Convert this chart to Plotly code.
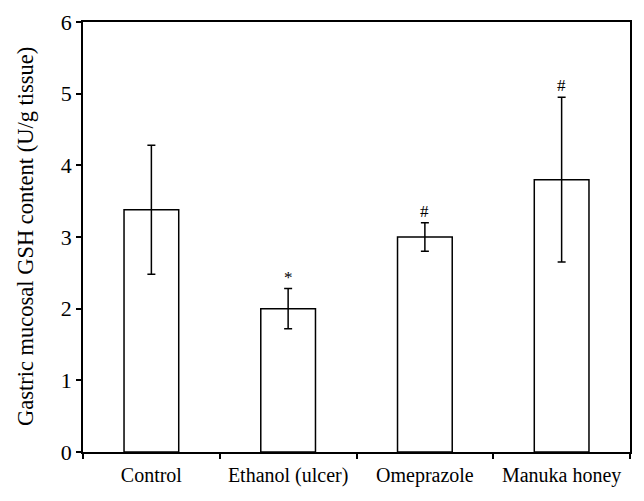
import plotly.graph_objects as go

categories = ["Control", "Ethanol (ulcer)", "Omeprazole", "Manuka honey"]
means = [3.38, 2.0, 3.0, 3.80]
errors = [0.90, 0.28, 0.20, 1.15]
marks = ["", "*", "#", "#"]
y_ticks = [0, 1, 2, 3, 4, 5, 6]
y_title = "Gastric mucosal GSH content (U/g tissue)"

FONT = "Liberation Serif"

fig = go.Figure()
fig.add_trace(go.Bar(
    x=categories, y=means, width=0.4,
    marker=dict(color="white", line=dict(color="black", width=1.5)),
    error_y=dict(type="data", array=errors, visible=True, color="black",
                 thickness=1.5, width=4),
    showlegend=False,
))

for c, m, e, s in zip(categories, means, errors, marks):
    if s:
        fig.add_annotation(x=c, y=m + e, text=s, showarrow=False,
                           yanchor="bottom", yshift=0,
                           font=dict(family=FONT, size=17, color="black"))

# y-axis title placed as a rotated annotation
fig.add_annotation(xref="paper", yref="paper", x=-0.106, y=0.5,
                   xanchor="center", yanchor="middle", textangle=-90,
                   text=y_title, showarrow=False,
                   font=dict(family=FONT, size=22.5, color="black"))

# page body has an 8px default margin, so the figure is sized to fit
fig.update_layout(
    width=636, height=493,
    margin=dict(l=75, r=14, t=14, b=49),
    paper_bgcolor="white", plot_bgcolor="white",
    font=dict(family=FONT, size=20, color="black"),
)
fig.update_xaxes(
    type="category", tickson="boundaries", ticks="outside", ticklen=5,
    tickcolor="black", tickwidth=1.5, tickangle=0, ticklabelstandoff=4,
    showline=True, linecolor="black", linewidth=1.5, mirror=True,
    showgrid=False, tickfont=dict(family=FONT, size=20), automargin=False,
)
fig.update_yaxes(
    range=[0, 6], tickvals=y_ticks, ticks="outside", ticklen=5,
    tickcolor="black", tickwidth=1.5, ticksuffix="\u00a0",
    showline=True, linecolor="black", linewidth=1.5, mirror=True,
    showgrid=False, zeroline=False, automargin=False,
    tickfont=dict(family=FONT, size=22),
)

fig.write_html("out.html")
